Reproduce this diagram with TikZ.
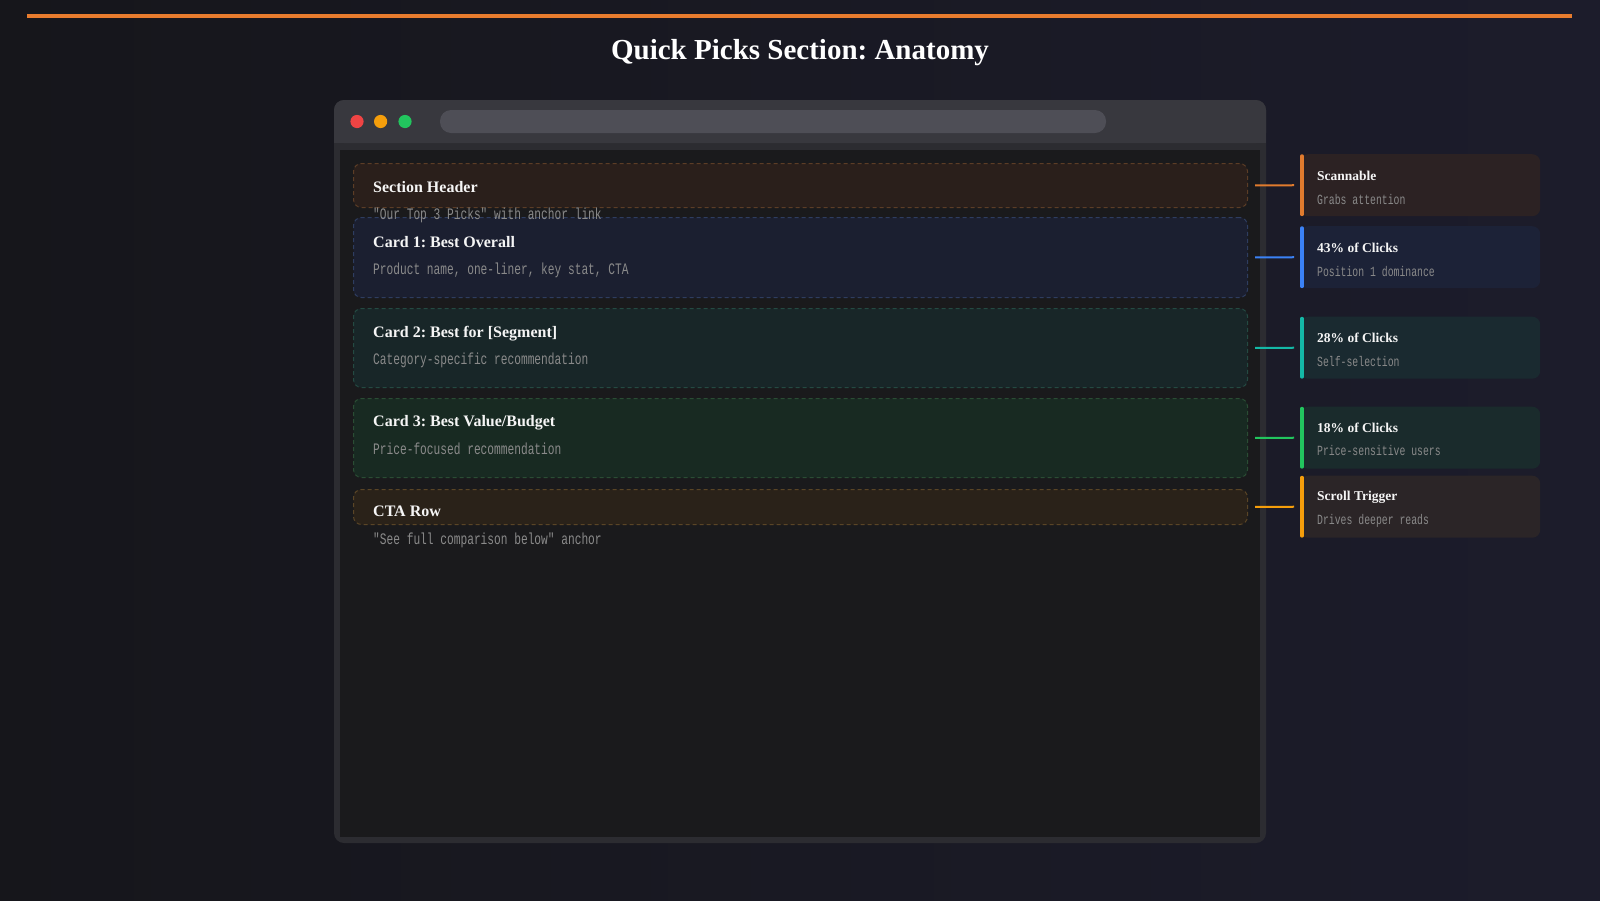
\documentclass[tikz,border=0pt]{standalone}
\usepackage{fontspec}
\setmainfont{Liberation Serif}
\newfontfamily\subfont[FakeStretch=0.7]{Liberation Mono}
\usepackage{tikz}
\usetikzlibrary{positioning}
\frenchspacing

\definecolor{bgA}{HTML}{16161B}
\definecolor{bgB}{HTML}{1C1C2B}
\definecolor{topline}{HTML}{E87C2E}
\definecolor{frame}{HTML}{2C2C31}
\definecolor{titlebar}{HTML}{38383E}
\definecolor{urlbar}{HTML}{4E4E56}
\definecolor{page}{HTML}{1A1A1C}
\definecolor{hdrfill}{HTML}{2A1F1B}
\definecolor{hdrline}{HTML}{5C3D26}
\definecolor{onefill}{HTML}{1B1F30}
\definecolor{oneline}{HTML}{2E3D60}
\definecolor{twofill}{HTML}{182628}
\definecolor{twoline}{HTML}{244A42}
\definecolor{threefill}{HTML}{182A22}
\definecolor{threeline}{HTML}{2A4D34}
\definecolor{ctafill}{HTML}{2A2219}
\definecolor{ctaline}{HTML}{5A4526}
\definecolor{scanfill}{HTML}{2C2223}
\definecolor{bluefill}{HTML}{1C2237}
\definecolor{tealfill}{HTML}{1A2A30}
\definecolor{greenfill}{HTML}{1A2B2C}
\definecolor{scrollfill}{HTML}{2B2527}
\definecolor{cOrange}{HTML}{E07B2E}
\definecolor{cBlue}{HTML}{3B82F6}
\definecolor{cTeal}{HTML}{14B8A6}
\definecolor{cGreen}{HTML}{22C55E}
\definecolor{cAmber}{HTML}{F59E0B}
\definecolor{cRed}{HTML}{EF4444}
\definecolor{headtext}{HTML}{F5F5F5}
\definecolor{notetext}{HTML}{8A8A8A}

\tikzset{
  sect/.style={draw, line width=1pt, dash pattern=on 4pt off 3pt, rounded corners=8pt,
    minimum width=894pt, anchor=north west, inner sep=0pt},
  call/.style={rounded corners=8pt, minimum width=240pt, minimum height=62pt,
    anchor=north west, inner sep=0pt},
  head/.style={anchor=west, inner sep=0pt, text=headtext, text height=0.7em, text depth=0.2em,
    font=\bfseries\fontsize{16}{19}\selectfont},
  note/.style={anchor=west, inner sep=0pt, text=notetext, text height=0.7em, text depth=0.2em,
    font=\subfont\fontsize{16}{19}\selectfont},
  chead/.style={head, font=\bfseries\fontsize{13.5}{16}\selectfont},
  cnote/.style={note, font=\subfont\fontsize{14}{17}\selectfont},
  link/.style={line width=2pt, shorten <=7pt, shorten >=6pt},
  accent/.style={line width=3.5pt, line cap=round}
}

\begin{document}
\begin{tikzpicture}[x=1pt,y=-1pt]
    \useasboundingbox (0,0) rectangle (1600,900);
    %%background
    \shade[left color=bgA, right color=bgB] (0,0) rectangle (1600,900);
    \draw[topline, line width=4pt] (27,16) -- (1572,16);
    \node[text=white, font=\bfseries\fontsize{29}{34}\selectfont] (title) at (800,53) {Quick Picks Section: Anatomy};
    %%browser window
    \fill[frame, rounded corners=10pt] (334,100) rectangle (1266,843);
    \fill[titlebar, rounded corners=10pt] (334,100) rectangle (1266,143);
    \fill[titlebar] (334,125) rectangle (1266,143);
    \fill[page] (340,150) rectangle (1260,837);
    \fill[cRed] (357,121.5) circle (6.6);
    \fill[cAmber] (380.6,121.5) circle (6.6);
    \fill[cGreen] (405,121.5) circle (6.6);
    \fill[urlbar, rounded corners=11pt] (440,110) rectangle (1106,133);
    %%sections
    \node[sect, fill=hdrfill, draw=hdrline, minimum height=44pt] (hdr) at (353,163) {};
    \node[sect, fill=onefill, draw=oneline, minimum height=80pt] (card1) at (353,217) {};
    \node[sect, fill=twofill, draw=twoline, minimum height=79pt] (card2) at (353,308) {};
    \node[sect, fill=threefill, draw=threeline, minimum height=79pt] (card3) at (353,398) {};
    \node[sect, fill=ctafill, draw=ctaline, minimum height=35pt] (cta) at (353,489) {};
    \node[head] (hdrT) at (373,190) {Section Header};
    \node[note] (hdrN) at (373,217) {"Our Top 3 Picks" with anchor link};
    \node[head] (oneT) at (373,245) {Card 1: Best Overall};
    \node[note] (oneN) at (373,272) {Product name, one-liner, key stat, CTA};
    \node[head] (twoT) at (373,335) {Card 2: Best for [Segment]};
    \node[note] (twoN) at (373,362) {Category-specific recommendation};
    \node[head] (threeT) at (373,424) {Card 3: Best Value/Budget};
    \node[note] (threeN) at (373,452) {Price-focused recommendation};
    \node[head] (ctaT) at (373,514) {CTA Row};
    \node[note] (ctaN) at (373,542) {"See full comparison below" anchor};
    %%callouts
    \node[call, fill=scanfill] (scan) at (1300,154) {};
    \node[call, fill=bluefill] (blue) at (1300,226) {};
    \node[call, fill=tealfill] (teal) at (1300,316.5) {};
    \node[call, fill=greenfill] (green) at (1300,406.5) {};
    \node[call, fill=scrollfill] (scroll) at (1300,475.5) {};
    \draw[accent, cOrange] ([xshift=2pt,yshift=-2pt]scan.north west) -- ([xshift=2pt,yshift=2pt]scan.south west);
    \draw[accent, cBlue] ([xshift=2pt,yshift=-2pt]blue.north west) -- ([xshift=2pt,yshift=2pt]blue.south west);
    \draw[accent, cTeal] ([xshift=2pt,yshift=-2pt]teal.north west) -- ([xshift=2pt,yshift=2pt]teal.south west);
    \draw[accent, cGreen] ([xshift=2pt,yshift=-2pt]green.north west) -- ([xshift=2pt,yshift=2pt]green.south west);
    \draw[accent, cAmber] ([xshift=2pt,yshift=-2pt]scroll.north west) -- ([xshift=2pt,yshift=2pt]scroll.south west);
    \node[chead] (scanT) at (1317,177.5) {Scannable};
    \node[cnote] (scanN) at (1317,201.5) {Grabs attention};
    \node[chead] (blueT) at (1317,249.5) {43\% of Clicks};
    \node[cnote] (blueN) at (1317,273.5) {Position 1 dominance};
    \node[chead] (tealT) at (1317,339.5) {28\% of Clicks};
    \node[cnote] (tealN) at (1317,363.5) {Self-selection};
    \node[chead] (greenT) at (1317,429.5) {18\% of Clicks};
    \node[cnote] (greenN) at (1317,453) {Price-sensitive users};
    \node[chead] (scrollT) at (1317,498) {Scroll Trigger};
    \node[cnote] (scrollN) at (1317,521.5) {Drives deeper reads};
    %%connectors
    \draw[link, cOrange] (hdr.east) -- (scan.west);
    \draw[link, cBlue] (card1.east) -- (blue.west);
    \draw[link, cTeal] (card2.east) -- (teal.west);
    \draw[link, cGreen] (card3.east) -- (green.west);
    \draw[link, cAmber] (cta.east) -- (scroll.west);
\end{tikzpicture}
\end{document}
